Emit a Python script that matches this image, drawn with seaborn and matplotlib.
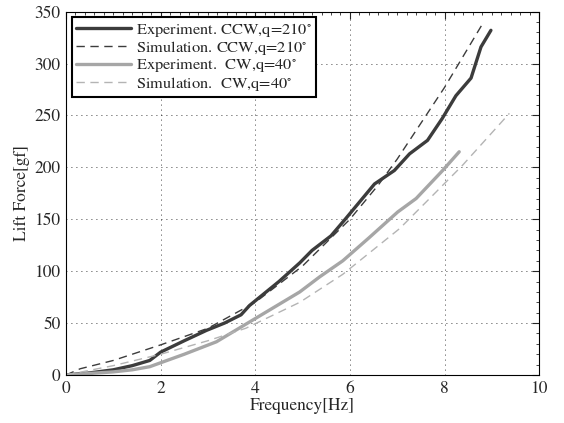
import numpy as np
import pandas as pd
import matplotlib
matplotlib.use("Agg")
import matplotlib.pyplot as plt
import seaborn as sns
from matplotlib.ticker import MultipleLocator

sns.set_style("white")
plt.rcParams['font.family'] = ['STIXGeneral', 'DejaVu Serif']
plt.rcParams['mathtext.fontset'] = 'stix'

# Experiment CCW
exp_ccw_f = [0, 0.5, 1.0, 1.4, 1.77, 2.0, 2.5, 2.97, 3.35, 3.7, 3.88, 4.5, 4.94, 5.2, 5.6, 5.9, 6.52, 6.94, 7.26, 7.64, 7.95, 8.24, 8.56, 8.77, 8.98]
exp_ccw_v = [0, 2, 5, 9, 14, 22, 33, 43, 50, 58, 67, 90, 108, 120, 134, 150, 184, 197, 213, 226, 247, 269, 286, 316, 332]
# Simulation CCW
sim_ccw_f = [0, 0.3, 1, 2, 3, 4, 5, 6, 6.6, 7, 8, 8.8]
sim_ccw_v = [0, 6, 14, 29, 45, 70, 105, 150, 183, 208, 277, 338]
# Experiment CW
exp_cw_f = [0, 0.5, 1.0, 1.4, 1.77, 2.5, 3.18, 3.95, 4.94, 5.36, 5.85, 6.4, 7.01, 7.4, 7.96, 8.31]
exp_cw_v = [0, 1.5, 3, 5, 8, 20, 32, 53, 80, 94.5, 110, 132, 157, 170, 197, 215]
# Simulation CW
sim_cw_f = [0, 1, 2, 3, 3.8, 4.94, 5.85, 7.05, 7.75, 8.38, 9.37]
sim_cw_v = [0, 9, 20, 33, 45, 70, 97, 141, 173, 202, 252]

labels = ["Experiment. CCW,q=210$^{\\circ}$",
          "Simulation. CCW,q=210$^{\\circ}$",
          "Experiment.  CW,q=40$^{\\circ}$",
          "Simulation.  CW,q=40$^{\\circ}$"]

series = [(exp_ccw_f, exp_ccw_v), (sim_ccw_f, sim_ccw_v), (exp_cw_f, exp_cw_v), (sim_cw_f, sim_cw_v)]
colors = ["#3c3c3c", "#3c3c3c", "#a6a6a6", "#b4b4b4"]
styles = ["-", (0, (6, 4)), "-", (0, (6, 4))]
widths = [2.4, 1.0, 2.4, 1.0]

fig = plt.figure(figsize=(5.64, 4.23), dpi=100)
ax = fig.add_axes([0.117, 0.1135, 0.839, 0.859])

for (f, v), lab, c, ls, lw in zip(series, labels, colors, styles, widths):
    df = pd.DataFrame({"f": f, "v": v})
    sns.lineplot(data=df, x="f", y="v", ax=ax, color=c, linestyle=ls, linewidth=lw,
                 label=lab, sort=False, estimator=None)

ax.set_xlim(0, 10)
ax.set_ylim(0, 350)
ax.xaxis.set_major_locator(MultipleLocator(2))
ax.xaxis.set_minor_locator(MultipleLocator(0.2))
ax.yaxis.set_major_locator(MultipleLocator(50))
ax.yaxis.set_minor_locator(MultipleLocator(10))
ax.tick_params(which='both', direction='in', top=True, right=True, labelsize=12.5, pad=4)
ax.tick_params(which='major', length=5, width=0.8)
ax.tick_params(which='minor', length=2.5, width=0.6)
ax.grid(True, which='major', linestyle=(0, (1, 5)), color='black', linewidth=0.6)
for s in ax.spines.values():
    s.set_color('black')
    s.set_linewidth(0.8)
ax.set_xlabel("Frequency[Hz]", fontsize=12.5, labelpad=1)
ax.set_ylabel("Lift Force[gf]", fontsize=12.5, labelpad=3)

leg = ax.legend(loc='upper left', bbox_to_anchor=(0.012, 0.985), fontsize=11.8, frameon=True,
                fancybox=False, edgecolor='black', framealpha=1, borderpad=0.25,
                labelspacing=0.0, handlelength=3.4, handletextpad=0.25, borderaxespad=0.0)
leg.get_frame().set_linewidth(1.5)

fig.savefig("out.png", dpi=100)
